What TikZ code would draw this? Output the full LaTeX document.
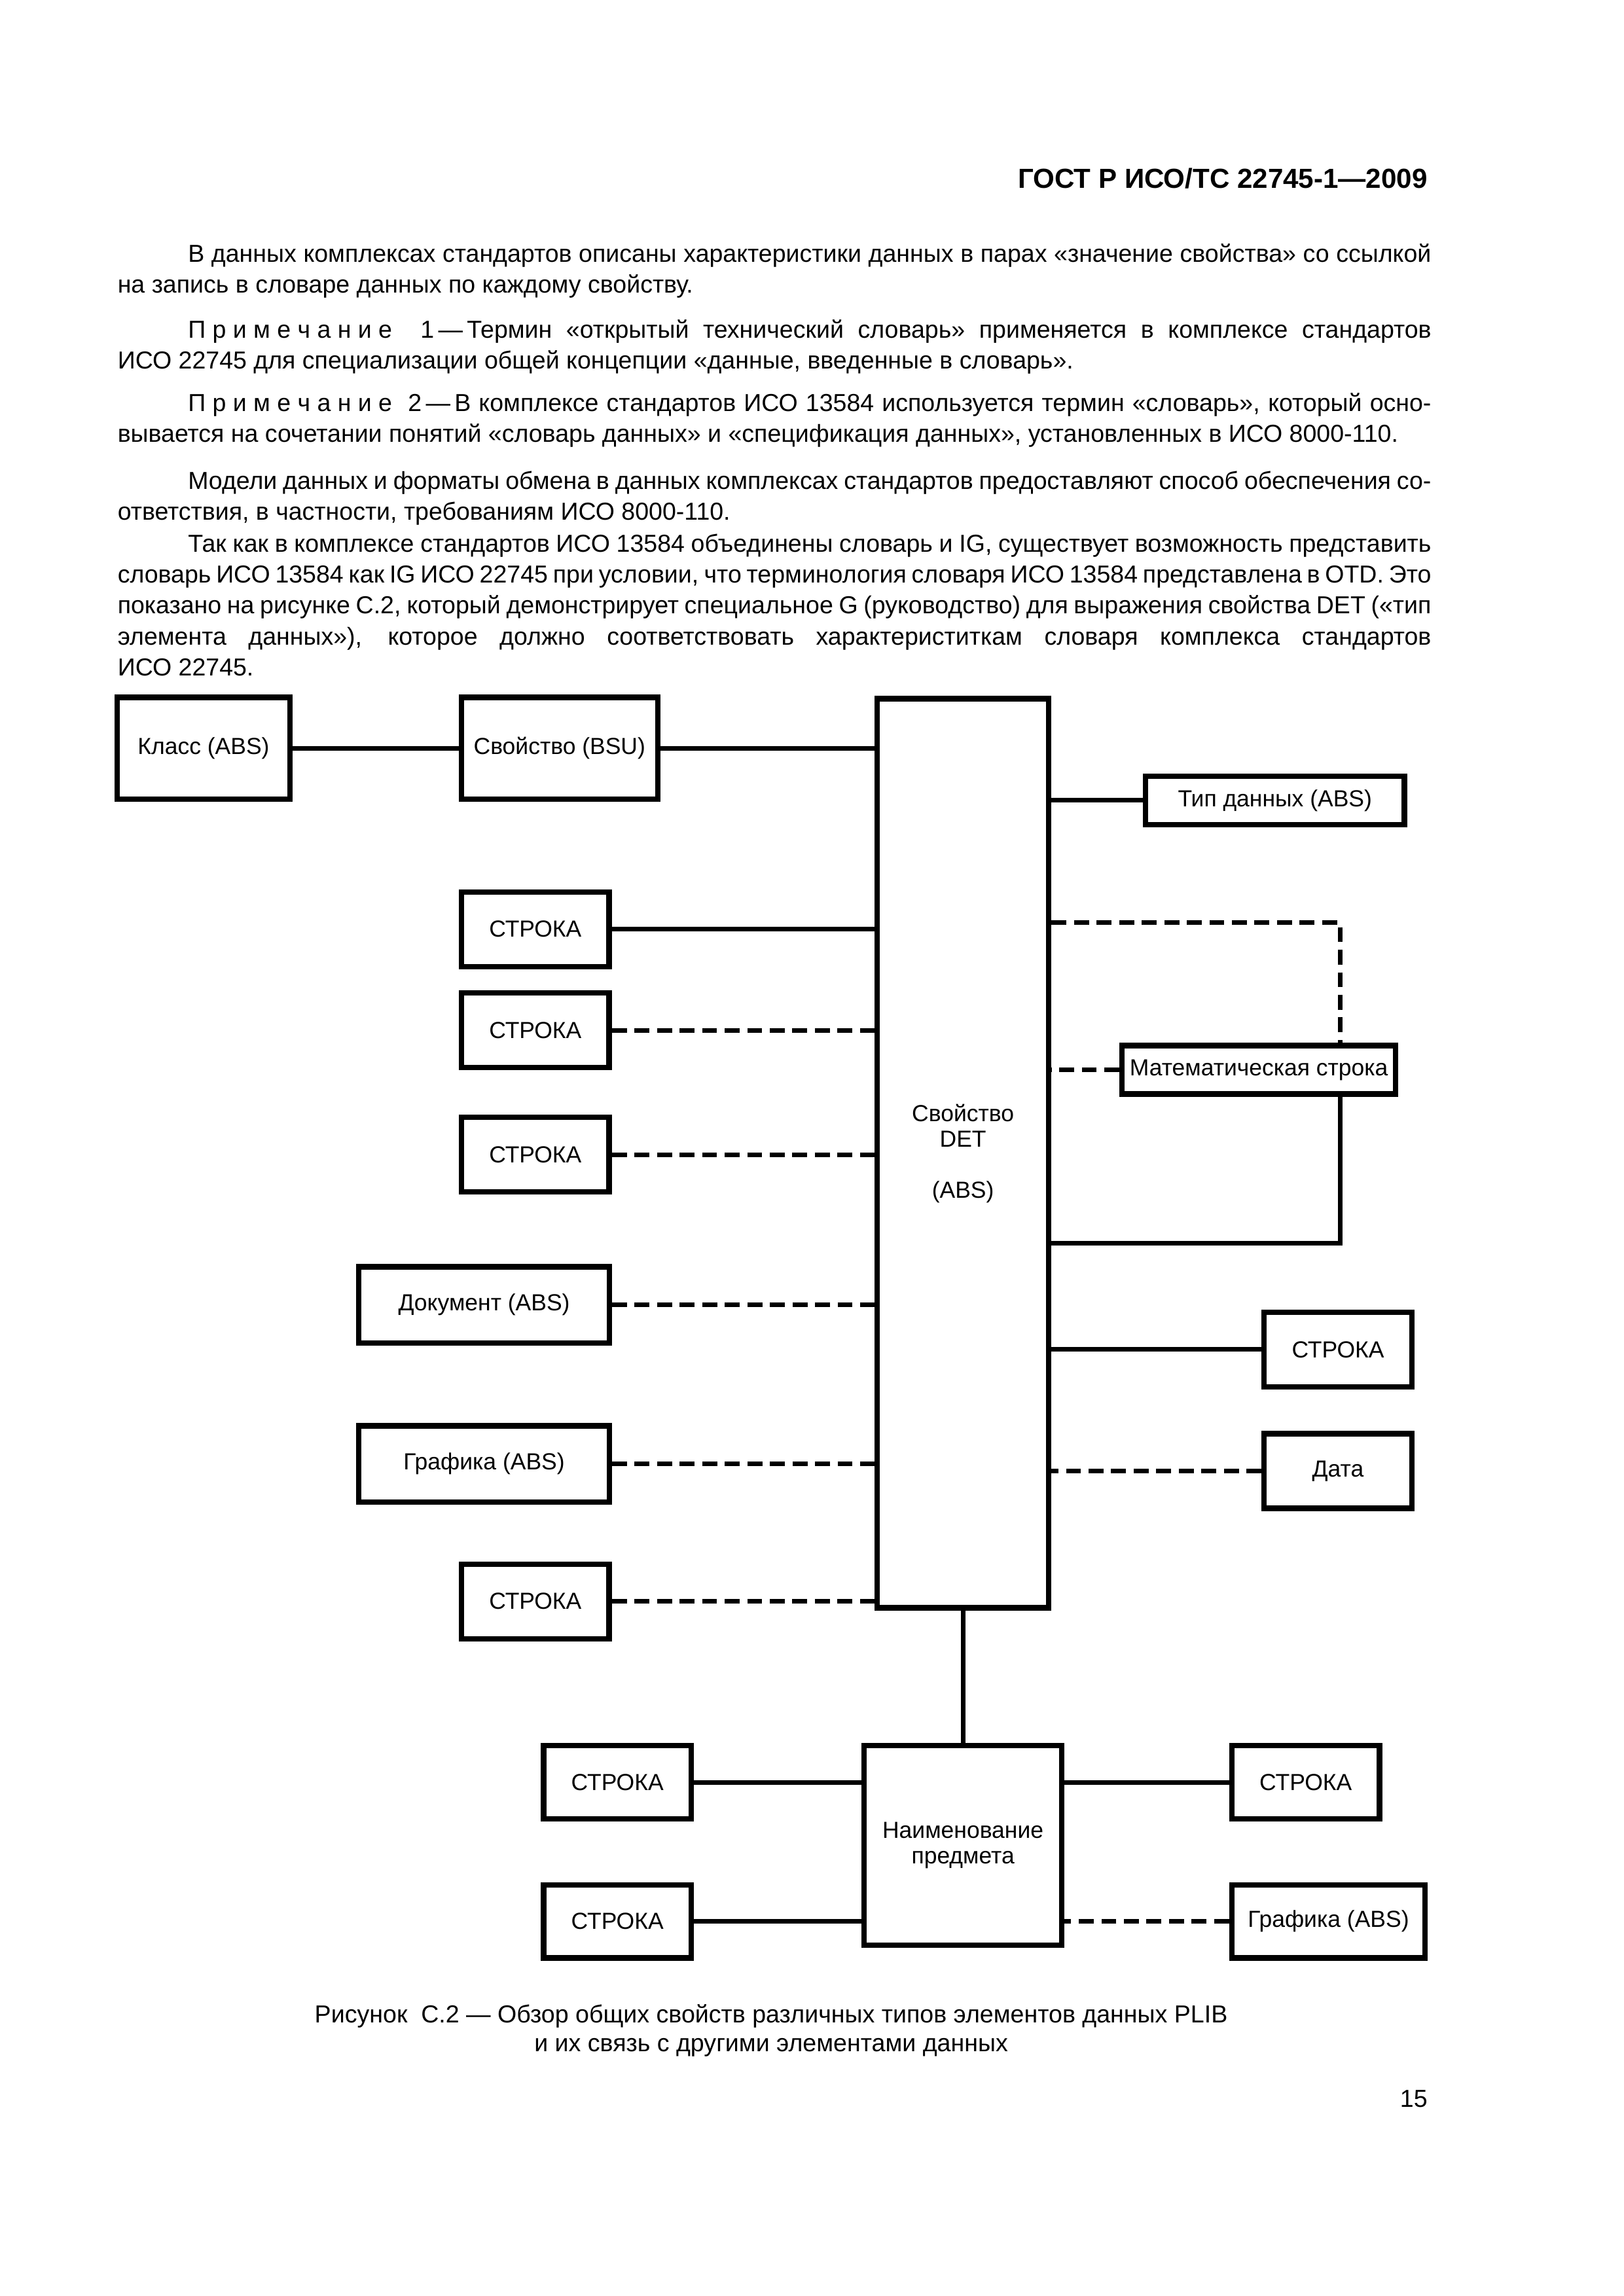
\documentclass[tikz,border=0pt]{standalone}
\usepackage{fontspec}
\setmainfont{Liberation Sans}
\newcommand{\primech}{П\kern2.5pt р\kern2.5pt и\kern2.5pt м\kern2.5pt е\kern2.5pt ч\kern2.5pt а\kern2.5pt н\kern2.5pt и\kern2.5pt е}
\newcommand{\justset}{\spaceskip=0.278em plus 1em minus 0.15em\relax\tolerance=9999\relax\hspace*{9.1mm}}
\begin{document}
\begin{tikzpicture}[
    blok/.style={draw, line width=2pt, inner sep=0pt, align=center, font=\fontsize{8.55}{9.4}\selectfont},
    stroka/.style={blok, minimum width=1.91cm, minimum height=0.965cm},
    absbox/.style={blok, minimum width=3.24cm, minimum height=0.985cm},
    flat/.style={blok, minimum height=0.625cm},
    link/.style={line width=1.7pt},
    dlink/.style={line width=1.7pt, dash pattern=on 5.5pt off 2.8pt},
    bodytext/.style={anchor=base west, inner sep=0pt, text width=16.99cm, align=justify, font=\fontsize{9.04}{11.37}\selectfont}
  ]

  % page
  \path[fill=white] (0,0) rectangle (21,-29.7);
  \node[anchor=base east, inner sep=0pt, font=\fontsize{10.15}{12}\selectfont\bfseries] (gost) at (18.470,-2.436) {ГОСТ Р ИСО/ТС 22745-1—2009};

  % text
  \node[bodytext] (par1) at (1.515,-3.390) {\justset В данных комплексах стандартов описаны характеристики данных в парах «значение свойства» со ссылкой\linebreak на запись в словаре данных по каждому свойству.};
  \node[bodytext] (par2) at (1.515,-4.375) {\justset\primech~~1\,—\,Термин «открытый технический словарь» применяется в комплексе стандартов\linebreak ИСО 22745 для специализации общей концепции «данные, введенные в словарь».};
  \node[bodytext] (par3) at (1.515,-5.322) {\justset\primech~~2\,—\,В комплексе стандартов ИСО 13584 используется термин «словарь», который осно-\linebreak вывается на сочетании понятий «словарь данных» и «спецификация данных», установленных в ИСО 8000-110.};
  \node[bodytext] (par4) at (1.515,-6.326) {\justset Модели данных и форматы обмена в данных комплексах стандартов предоставляют способ обеспечения со-\linebreak ответствия, в частности, требованиям ИСО 8000-110.};
  \node[bodytext] (par5) at (1.515,-7.141) {\justset Так как в комплексе стандартов ИСО 13584 объединены словарь и IG, существует возможность представить\linebreak словарь ИСО 13584 как IG ИСО 22745 при условии, что терминология словаря ИСО 13584 представлена в OTD. Это\linebreak показано на рисунке С.2, который демонстрирует специальное G (руководство) для выражения свойства DET («тип\linebreak элемента данных»), которое должно соответствовать характериститкам словаря комплекса стандартов\linebreak ИСО 22745.};

  % top row and DET
  \node[blok, minimum width=2.24cm, minimum height=1.32cm] (klass) at (2.633,-9.680) {Класс (ABS)};
  \node[blok, minimum width=2.54cm, minimum height=1.32cm] (bsu) at (7.237,-9.680) {Свойство (BSU)};
  \node[blok, minimum width=2.22cm, minimum height=11.76cm] (det) at (12.455,-14.918) {Свойство\\DET\\[9.4pt](ABS)};

  % left column
  \node[stroka] (s1) at (6.924,-12.020) {СТРОКА};
  \node[stroka] (s2) at (6.924,-13.327) {СТРОКА};
  \node[stroka] (s3) at (6.924,-14.937) {СТРОКА};
  \node[absbox] (doc) at (6.261,-16.879) {Документ (ABS)};
  \node[absbox] (graf) at (6.261,-18.935) {Графика (ABS)};
  \node[stroka] (s4) at (6.924,-20.715) {СТРОКА};

  % right column
  \node[flat, minimum width=3.35cm] (tip) at (16.490,-10.353) {Тип данных (ABS)};
  \node[flat, minimum width=3.54cm] (mat) at (16.282,-13.838) {Математическая строка};
  \node[stroka] (rs) at (17.305,-17.456) {СТРОКА};
  \node[stroka] (data) at (17.305,-19.029) {Дата};

  % bottom group
  \node[blok, minimum width=2.56cm, minimum height=2.58cm] (naim) at (12.455,-23.869) {Наименование\\предмета};
  \node[stroka, minimum height=0.945cm] (b1) at (7.985,-23.054) {СТРОКА};
  \node[stroka, minimum height=0.945cm] (b2) at (7.985,-24.854) {СТРОКА};
  \node[stroka, minimum height=0.945cm] (b3) at (16.888,-23.054) {СТРОКА};
  \node[blok, minimum width=2.50cm, minimum height=0.945cm] (graf2) at (17.182,-24.854) {Графика (ABS)};

  % links
  \draw[link] (klass) -- (bsu);
  \draw[link] (bsu) -- (bsu -| det.west);
  \draw[link] (s1) -- (s1 -| det.west);
  \foreach \n in {s2,s3,doc,graf,s4}
    \draw[dlink] (\n.east) -- (\n.east -| det.west);

  \coordinate (mtop) at (17.334,-11.935);
  \coordinate (mbot) at (17.334,-16.083);
  \draw[link] (tip) -- (tip -| det.east);
  \draw[dlink] (mtop -| det.east) -- (mtop) -- (mtop |- mat.north);
  \draw[dlink] (mat) -- (mat -| det.east);
  \draw[link] (mbot |- mat.south) -- (mbot) -- (mbot -| det.east);
  \draw[link] (rs) -- (rs -| det.east);
  \draw[dlink] (data) -- (data -| det.east);

  \draw[link] (det) -- (naim);
  \draw[link] (b1) -- (b1 -| naim.west);
  \draw[link] (b2) -- (b2 -| naim.west);
  \draw[link] (b3) -- (b3 -| naim.east);
  \draw[dlink] (graf2) -- (graf2 -| naim.east);

  % caption
  \node[anchor=base, inner sep=0pt, font=\fontsize{9.05}{11}\selectfont] (cap1) at (9.974,-26.168) {Рисунок~~С.2 — Обзор общих свойств различных типов элементов данных PLIB};
  \node[anchor=base, inner sep=0pt, font=\fontsize{9.05}{11}\selectfont] (cap2) at ([yshift=-0.369cm]cap1.base) {и их связь с другими элементами данных};
  \node[anchor=base east, inner sep=0pt, font=\fontsize{9.05}{11}\selectfont] (pagenum) at (18.470,-27.260) {15};

\end{tikzpicture}
\end{document}
